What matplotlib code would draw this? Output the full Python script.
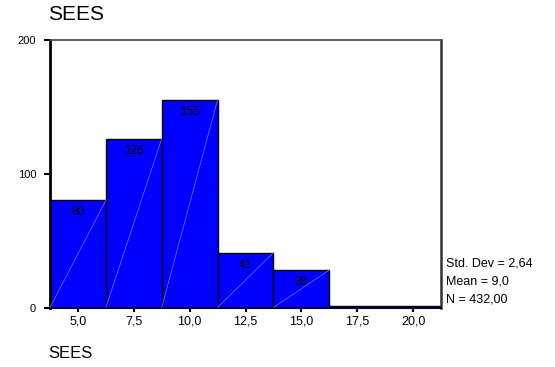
import matplotlib
matplotlib.use("Agg")
import matplotlib.pyplot as plt

# histogram data (bin centres and counts)
bin_centers = [5.0, 7.5, 10.0, 12.5, 15.0, 17.5, 20.0]
counts = [80, 126, 155, 41, 28, 1, 1]
bin_width = 2.5
tick_labels = ["5,0", "7,5", "10,0", "12,5", "15,0", "17,5", "20,0"]
y_ticks = [0, 100, 200]
stats_lines = ["Std. Dev = 2,64", "Mean = 9,0", "N = 432,00"]

plt.rcParams['font.family'] = ['Liberation Sans', 'DejaVu Sans']

fig = plt.figure(figsize=(5.55, 3.67), dpi=100)
ax = fig.add_axes([50 / 555, 1 - 307.5 / 367, 391 / 555, 268 / 367])

ax.bar(bin_centers, counts, width=bin_width, color='#0000FF',
       edgecolor='black', linewidth=1.0, zorder=2)

# thin diagonal pattern line inside each bar
for c, h in zip(bin_centers, counts):
    if h > 5:
        ax.plot([c - bin_width / 2, c + bin_width / 2], [0, h],
                color='#7a7aff', linewidth=0.5, zorder=3)
        ax.annotate(str(h), (c, h), xytext=(0, -12), textcoords='offset pixels',
                    ha='center', va='center', fontsize=8.5, color='black', zorder=4)

ax.set_xlim(bin_centers[0] - bin_width / 2, bin_centers[-1] + bin_width / 2)
ax.set_ylim(0, 200)
ax.set_xticks(bin_centers)
ax.set_xticklabels(tick_labels)
ax.set_yticks(y_ticks)
ax.set_yticklabels([str(v) for v in y_ticks])
ax.tick_params(axis='x', length=3, width=1.5, labelsize=9, pad=3, color='black')
ax.tick_params(axis='y', length=4, width=1.5, labelsize=8, pad=6, color='black')

ax.spines['left'].set_linewidth(2.0)
ax.spines['left'].set_color('black')
ax.spines['bottom'].set_linewidth(1.5)
ax.spines['bottom'].set_color('#000040')
ax.spines['top'].set_linewidth(1.2)
ax.spines['top'].set_color('#444444')
ax.spines['right'].set_linewidth(1.8)
ax.spines['right'].set_color('#333333')

fig.text(48 / 555, 1 - 15 / 367, "SEES", fontsize=15, ha='left', va='center')
fig.text(48 / 555, 1 - 353 / 367, "SEES", fontsize=12, ha='left', va='center')

for i, line in enumerate(stats_lines):
    fig.text(446 / 555, 1 - (264 + 18 * i) / 367, line, fontsize=9,
             ha='left', va='center')

fig.savefig("out.png", dpi=100)
